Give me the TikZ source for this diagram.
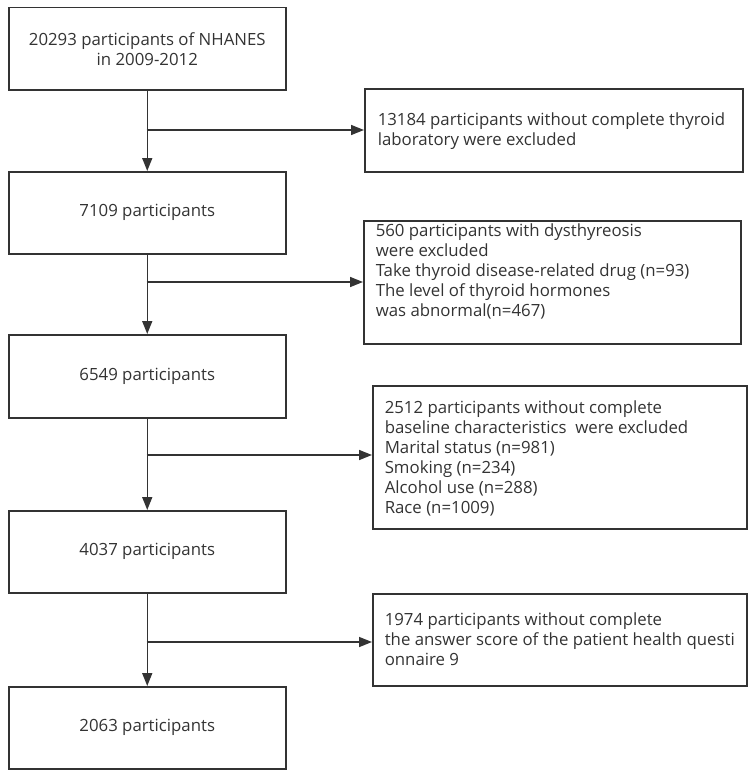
\documentclass[tikz,border=0pt]{standalone}
\usepackage{fontspec}
\setmainfont{Open Sans}
\usetikzlibrary{arrows.meta}
\definecolor{ln}{HTML}{333333}
\newcommand\exc[4]{\parbox[c][#2][t]{#1}{\raggedright\vspace*{#3}#4}}
\begin{document}
\begin{tikzpicture}[x=1pt,y=-1pt,
  box/.style={draw=ln, line width=1.5pt, inner sep=0pt, anchor=north west, text=ln, font=\fontsize{16.8}{20}\selectfont},
  mainbox/.style={box, minimum width=277pt, minimum height=82pt, align=center},
  flow/.style={draw=ln, line width=1.5pt, -{Triangle[length=13pt,width=10pt]}}]
\useasboundingbox (0,0) rectangle (749,776);
\node[mainbox] (b1) at (8,7) {20293 participants of NHANES\\in 2009-2012};
\node[mainbox] (b2) at (8,171) {7109 participants};
\node[mainbox, minimum height=83pt] (b3) at (8,334) {6549 participants};
\node[mainbox] (b4) at (8,510) {4037 participants};
\node[mainbox] (b5) at (8,686) {2063 participants};
\node[box, minimum width=378pt, minimum height=83pt] (e1) at (364,88)
  {\exc{352pt}{83pt}{24pt}{13184 participants without complete thyroid\\laboratory were excluded}};
\node[box, minimum width=377pt, minimum height=123pt] (e2) at (363,220)
  {\exc{353pt}{123pt}{3pt}{560 participants with dysthyreosis\\were excluded\\Take thyroid disease-related drug (n=93)\\The level of thyroid hormones\\was abnormal(n=467)}};
\node[box, minimum width=374pt, minimum height=143pt] (e3) at (372,385)
  {\exc{350pt}{143pt}{15pt}{2512 participants without complete\\baseline characteristics~ were excluded\\Marital status (n=981)\\Smoking (n=234)\\Alcohol use (n=288)\\Race (n=1009)}};
\node[box, minimum width=374pt, minimum height=92pt] (e4) at (372,593)
  {\exc{350pt}{92pt}{19pt}{1974 participants without complete\\the answer score of the patient health questi\\onnaire 9}};
\coordinate (j1) at (146.5,130);
\coordinate (j2) at (146.5,282);
\coordinate (j3) at (146.5,455);
\coordinate (j4) at (146.5,642);
\draw[flow] (b1) -- (b2);
\draw[flow] (b2) -- (b3);
\draw[flow] (b3) -- (b4);
\draw[flow] (b4) -- (b5);
\draw[flow] (j1) -- (j1 -| e1.west);
\draw[flow] (j2) -- (j2 -| e2.west);
\draw[flow] (j3) -- (j3 -| e3.west);
\draw[flow] (j4) -- (j4 -| e4.west);
\end{tikzpicture}
\end{document}
